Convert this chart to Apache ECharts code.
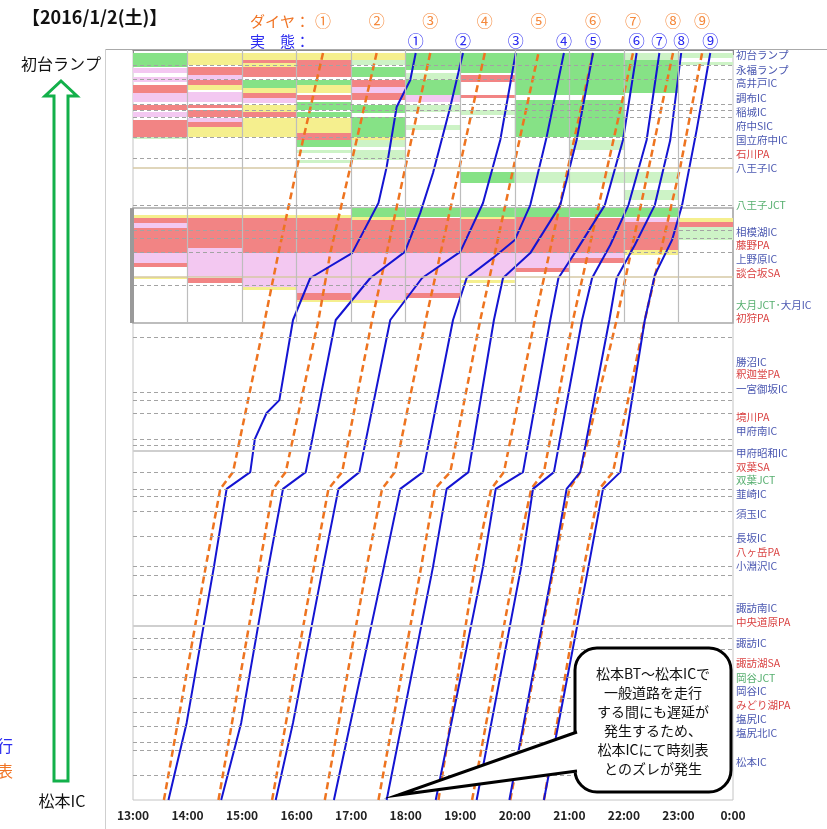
<!DOCTYPE html>
<html lang="ja">
<head>
<meta charset="utf-8" />
<title>中央道 高速バス 運行状況 2016/1/2</title>
<style>
  html, body { margin: 0; padding: 0; background: #fff; }
  #chart { width: 827px; height: 829px; }
</style>
</head>
<body>
<div id="chart"></div>
<script src="https://cdn.jsdelivr.net/npm/echarts@6/dist/echarts.min.js"></script>
<script>
const FONT = '"Noto Sans CJK JP", "Noto Sans", sans-serif';

// 停留所・IC（表示位置 km, 初台起点）
const stationNames = ['初台ランプ','永福ランプ','高井戸IC','調布IC','稲城IC','府中SIC','国立府中IC','石川PA','八王子IC',
  '八王子JCT','相模湖IC','藤野PA','上野原IC','談合坂SA','大月JCT･大月IC','初狩PA',
  '勝沼IC','釈迦堂PA','一宮御坂IC','境川PA','甲府南IC','甲府昭和IC','双葉SA','双葉JCT','韮崎IC','須玉IC',
  '長坂IC','八ヶ岳PA','小淵沢IC','諏訪南IC','中央道原PA',
  '諏訪IC','諏訪湖SA','岡谷JCT','岡谷IC','みどり湖PA','塩尻IC','塩尻北IC','松本IC'];
const stationKm = [1.7, 6.7, 11, 16, 20.7, 25.3, 30, 34.7, 39.3,
  51.7, 60.7, 65, 69.7, 74.3, 85, 89.3,
  104, 108, 113, 122.3, 127, 134.3, 139, 143.3, 148, 154.7,
  162.7, 167.3, 172, 186, 190.7,
  197.7, 204.3, 209.3, 213.7, 218.3, 223, 227.7, 237.3];

// 破線（実際の位置）と実線
const dashKm = [5, 9.7, 18, 20, 22.3, 29, 36, 51.7, 60, 62.7, 67.3, 78.3, 95.7,
  114, 116.7, 121, 129.7, 131.7, 140.7, 146.3, 148.7, 153.7, 162, 172, 175, 181.7,
  196, 199.7, 209, 216, 220.7, 225.3, 230.7, 233.3, 241.7];
const solidKm = [39.3, 75.7, 133.7, 192];
const boxKm = [52.7, 91];

// 時刻軸
const hourTicks = [13, 14, 15, 16, 17, 18, 19, 20, 21, 22, 23, 24];

// ダイヤ（時刻表） [時刻, km]
const dia = [
  [['13:34',250],['14:20',172.3],['14:36',146.3],['14:50',140.7],['15:25',90],['15:40',67.7],['16:07',30],['16:29',1]],
  [['14:34',250],['15:19',172.3],['15:34',146.3],['15:48',140.7],['16:24',90],['16:37',67.7],['17:06',30],['17:28',1]],
  [['15:33',250],['16:19',172.3],['16:35',146.3],['16:50',140.7],['17:23',90],['18:27',1]],
  [['16:31',250],['17:17',172.3],['17:34',146.3],['17:48',140.7],['18:22',90],['19:27',1]],
  [['17:30',250],['18:17',172.3],['18:32',146.3],['18:49',140.7],['19:22',90],['20:26',1]],
  [['18:36',250],['19:16',172.3],['19:34',146.3],['19:48',140.7],['20:22',90],['21:26',1]],
  [['19:13',250],['20:00',172.3],['20:18',146.3],['20:32',140.7],['21:04',90],['22:10',1]],
  [['19:55',250],['20:43',172.3],['21:00',146.3],['21:12',140.7],['21:52',90],['22:54',1]],
  [['20:32',250],['21:16',172.3],['21:33',146.3],['21:48',140.7],['22:23',90],['23:02',39],['23:26',1]]
];

// 実態（実運行） [時刻, km]
const actual = [
  [['13:39',250],['13:59',224.3],['14:29',172.3],['14:43',146.3],['15:09',140.7],['15:14',129.7],['15:27',121],['15:41',116.7],
   ['15:56',90],['16:15',76],['17:01',67.7],['17:30',51],['17:39',39],['17:50',19],['18:05',10],['18:11',1]],
  [['14:37',250],['14:59',224.3],['15:29',172.3],['15:45',146.3],['16:10',140.7],['16:43',90],['17:21',76],['17:59',67.3],
   ['18:16',54.3],['18:30',41],['18:49',19],['19:03',1]],
  [['15:37',250],['15:56',224.3],['16:29',172.3],['16:46',146.3],['17:09',140.7],['17:43',90],['18:18',76],['19:00',67.3],
   ['19:25',51],['19:44',30],['20:01',1]],
  [['16:41',250],['17:36',172.3],['17:54',146.3],['18:19',140.7],['18:52',90],['19:07',76],['19:36',69.3],['20:00',63.3],
   ['20:17',51.7],['20:35',29],['20:54',1]],
  [['17:39',250],['18:30',172.3],['18:45',146.3],['19:09',140.7],['19:37',90],['19:47',76],['20:17',67.7],['20:50',51.7],
   ['21:08',30],['21:26',1]],
  [['18:33',250],['19:25',172.3],['19:39',146.3],['20:09',140.7],['20:39',90],['20:48',76],['21:08',66.7],['21:39',51.7],
   ['21:59',30],['22:14',1]],
  [['19:18',250],['20:07',172.3],['20:20',146.3],['20:43',140.7],['21:14',90],['21:25',76],['21:45',65],['22:05',51.7],
   ['22:25',30],['22:39',1]],
  [['19:54',250],['20:42',172.3],['20:57',146.3],['21:12',140.7],['21:44',90],['21:52',76],['22:12',65],['22:34',51.7],
   ['22:51',30],['23:03',1]],
  [['20:32',250],['21:21',172.3],['21:37',146.3],['21:56',140.7],['22:23',90],['22:34',75],['22:53',63.3],['23:04',51.7],
   ['23:20',26.7],['23:35',1]]
];
const runMarks = ['①','②','③','④','⑤','⑥','⑦','⑧','⑨'];

// 渋滞状況（1時間ごと） [上端km, 下端km, 色]
const jam13 = [[1,5.7,'G'],[6,7.7,'P'],[9,10.7,'P'],[11.7,14.3,'R'],[14.3,17.3,'P'],[18.3,20,'R'],[20.7,22.3,'P'],[23.3,29,'R'],[29,29.7,'g'],
  [55,56,'Y'],[56,57.7,'R'],[57.7,59.3,'P'],[59.3,67.7,'R'],[67.7,71,'P'],[71,72.3,'R'],[75.7,76.3,'Y']];
const jam14 = [[1,5,'Y'],[5.7,8.3,'R'],[8.3,10,'P'],[10,11.7,'R'],[11.7,13.3,'Y'],[14,17.3,'P'],[18.3,19.3,'R'],[20,22.3,'R'],[22.7,24,'P'],
  [24,25.7,'R'],[25.7,29,'Y'],[55,56,'Y'],[56,66,'R'],[66,75.7,'P'],[76,77.7,'R']];
const jam15 = [[1,3.3,'Y'],[3.3,4.3,'R'],[4.3,5.7,'Y'],[5.7,9,'R'],[10,12.7,'G'],[12.7,14.3,'Y'],[14.3,16,'R'],[16,17.7,'P'],[18.3,20.7,'Y'],
  [20.7,22.3,'R'],[22.7,29,'Y'],[55,56,'Y'],[56,67.7,'R'],[67.7,79,'P'],[79,80,'Y']];
const jam16 = [[1,3.3,'Y'],[3.3,9,'R'],[10,11.7,'G'],[11.7,14.3,'Y'],[15,16.7,'R'],[17.3,20,'G'],[20.7,22.3,'G'],[22.7,27.7,'Y'],[27.7,30,'R'],
  [30,32.3,'G'],[33.3,34.3,'g'],[36.7,37.7,'g'],[55,56,'Y'],[56,67.7,'R'],[67.7,81,'P'],[81,83.3,'R'],[83.3,84,'Y']];
const jam17 = [[1,3.3,'Y'],[3.3,5,'g'],[5.7,9,'G'],[10,12.3,'R'],[12.3,14.3,'P'],[14.3,16.7,'R'],[18.3,21,'G'],[22.3,29,'G'],[29,30,'Y'],
  [30,32.3,'g'],[33.3,36.7,'g'],[52.7,55.7,'G'],[55.7,56.7,'Y'],[56.7,67.7,'R'],[67.7,83.3,'P'],[83.3,84.3,'Y']];
const jam18 = [[1,6.7,'G'],[7.7,10,'g'],[10,15,'G'],[15,17.3,'P'],[18.3,20.7,'g'],[25,26.7,'g'],[52.7,55.7,'G'],[56,67.7,'R'],[67.7,81,'P'],[81,82.7,'R']];
const jam19 = [[1,7.7,'G'],[8.3,10.7,'R'],[15,16,'R'],[20,21.7,'g'],[40.7,44.3,'G'],[52.7,55.7,'G'],[55.7,56.3,'Y'],[56.3,67.7,'R'],[67.7,76,'P'],[76.7,77.7,'Y']];
const jam20 = [[1,15,'G'],[16.7,29,'G'],[40.7,44.3,'g'],[52.7,55.7,'G'],[55.7,67.7,'R'],[67.7,72.7,'P'],[72.7,74,'R']];
const jam21 = [[1,15,'G'],[16.7,29,'G'],[30,33.3,'g'],[40.7,44.3,'g'],[52.7,55.7,'G'],[56,67.7,'R'],[67.7,69.3,'P'],[69.3,71,'R']];
const jam22 = [[1,3.3,'g'],[3.3,14.3,'G'],[40.7,44.3,'g'],[46.7,50,'g'],[52.7,55.7,'G'],[56,57.3,'P'],[57.3,66.7,'R'],[66.7,68.3,'Y']];
const jam23 = [[1,2.7,'g'],[4,5,'g'],[56,57.3,'Y'],[57.3,59,'R'],[59,63.3,'g']];

const jamColors = { G: '#86e286', g: '#cdf3c6', Y: '#f5ef8e', R: '#f28484', P: '#f3c8f1' };
const ORANGE = '#ee7420';
const BLUE = '#1414d2';

const toH = s => { const [h, m] = s.split(':').map(Number); return h + m / 60; };

const jamByHour = [jam13, jam14, jam15, jam16, jam17, jam18, jam19, jam20, jam21, jam22, jam23];
const jamData = [];
jamByHour.forEach((rows, i) => {
  rows.forEach(r => jamData.push({ value: [13 + i, r[0], r[1]], itemStyle: { color: jamColors[r[2]] } }));
});

const kindColor = name => {
  if (/(PA|SA)$/.test(name)) return '#d01010';
  if (/JCT$/.test(name)) return '#2a9a4a';
  return '#1c2c9c';
};

const stationData = stationNames.map((n, i) => ({
  name: n,
  value: [24, stationKm[i]],
  label: { color: kindColor(n) }
}));

const chart = echarts.init(document.getElementById('chart'));

const series = [];
series.push({
  type: 'custom',
  name: 'jam',
  z: 1,
  silent: true,
  data: jamData,
  renderItem: (params, api) => {
    const p0 = api.coord([api.value(0), api.value(1)]);
    const p1 = api.coord([api.value(0) + 1, api.value(2)]);
    return {
      type: 'rect',
      shape: { x: p0[0], y: p0[1], width: p1[0] - p0[0], height: p1[1] - p0[1] },
      style: { fill: api.visual('color') }
    };
  },
  markLine: {
    silent: true,
    symbol: ['none', 'none'],
    label: { show: false },
    data: solidKm.map((k, i) => ({ yAxis: k, lineStyle: { color: i < 2 ? '#d6c8a4' : '#cfcfcf', width: i < 2 ? 1.5 : 2, type: 'solid' } }))
      .concat(hourTicks.slice(1, -1).map(h => [
        { coord: [h, 0], lineStyle: { color: '#bdbdbd', width: 1.2, type: 'solid' } },
        { coord: [h, boxKm[1]] }
      ]))
  },
  markArea: {
    silent: true,
    itemStyle: { color: 'rgba(0,0,0,0)', borderColor: '#a8a8a8', borderWidth: 1.5 },
    data: [[{ coord: [13, boxKm[0]] }, { coord: [24, boxKm[1]] }]]
  }
});

series.push({
  type: 'scatter',
  name: 'stations',
  z: 2,
  silent: true,
  symbolSize: 0,
  clip: false,
  data: stationData,
  label: {
    show: true,
    position: 'right',
    distance: 3,
    fontSize: 10.5,
    fontFamily: FONT,
    formatter: p => p.name === '大月JCT･大月IC' ? '{j|大月JCT･}{i|大月IC}' : p.name,
    rich: {
      j: { color: '#2a9a4a', fontSize: 10.5, fontFamily: FONT },
      i: { color: '#1c2c9c', fontSize: 10.5, fontFamily: FONT }
    }
  },
  markLine: {
    silent: true,
    symbol: ['none', 'none'],
    label: { show: false },
    lineStyle: { color: '#a3a3a3', width: 1.2, type: [4, 3] },
    data: dashKm.map(k => ({ yAxis: k }))
  }
});

dia.forEach((run, i) => {
  series.push({
    type: 'line',
    name: 'ダイヤ' + runMarks[i],
    z: 3,
    silent: true,
    symbol: 'none',
    clip: false,
    data: run.map(([t, k]) => [toH(t), k]),
    lineStyle: { color: ORANGE, width: 2.5, type: [7, 4] }
  });
});
actual.forEach((run, i) => {
  series.push({
    type: 'line',
    name: '実態' + runMarks[i],
    z: 4,
    silent: true,
    symbol: 'none',
    clip: false,
    data: run.map(([t, k]) => [toH(t), k]),
    lineStyle: { color: BLUE, width: 2 }
  });
});

chart.setOption({
  animation: false,
  backgroundColor: '#fff',
  grid: { left: 133, right: 94, top: 50, bottom: 29, show: true, borderColor: '#c4c4c4', borderWidth: 1 },
  xAxis: {
    type: 'value',
    min: 13,
    max: 24,
    interval: 1,
    axisLine: { lineStyle: { color: '#8c8c8c', width: 1.2 } },
    axisTick: { show: true, length: 5, lineStyle: { color: '#8c8c8c' } },
    splitLine: { show: false },
    axisLabel: {
      formatter: v => (v % 24) + ':00',
      color: '#222',
      fontSize: 12,
      fontWeight: 'bold',
      fontFamily: FONT,
      margin: 9
    }
  },
  yAxis: {
    type: 'value',
    inverse: true,
    min: 0,
    max: 250,
    show: false
  },
  series: series
});

// 見出し・注記（位置は描画後に座標から求める）
const px = (h, k) => chart.convertToPixel({ gridIndex: 0 }, [h, k]);
const graphics = [];

graphics.push({ type: 'line', shape: { x1: 105, y1: 49.5, x2: 827, y2: 49.5 }, style: { stroke: '#aaa', lineWidth: 1 }, z: 10 });
graphics.push({ type: 'line', shape: { x1: 105.5, y1: 49, x2: 105.5, y2: 829 }, style: { stroke: '#cfcfcf', lineWidth: 1 }, z: 10 });

const boxTop = px(13, boxKm[0]);
const boxBot = px(13, boxKm[1]);
graphics.push({ type: 'rect', shape: { x: boxTop[0] - 3, y: boxTop[1], width: 4, height: boxBot[1] - boxTop[1] }, style: { fill: '#9a9a9a' }, z: 10 });

graphics.push({ type: 'text', left: 22, top: 8, style: { text: '【2016/1/2(土)】', font: 'bold 18px ' + FONT, fill: '#111' } });
graphics.push({ type: 'text', x: 250, y: 21, style: { text: 'ダイヤ：', font: '15px ' + FONT, fill: '#f07424', verticalAlign: 'middle' } });
graphics.push({ type: 'text', x: 250, y: 41, style: { text: '実　態：', font: '15px ' + FONT, fill: '#2b2bf0', verticalAlign: 'middle' } });

dia.forEach((run, i) => {
  const last = run[run.length - 1];
  const p = px(toH(last[0]), last[1]);
  graphics.push({ type: 'text', x: p[0], y: 21, style: { text: runMarks[i], font: '16px ' + FONT, fill: '#f5893c', align: 'center', verticalAlign: 'middle' } });
});
actual.forEach((run, i) => {
  const last = run[run.length - 1];
  const p = px(toH(last[0]), last[1]);
  graphics.push({ type: 'text', x: p[0], y: 41, style: { text: runMarks[i], font: '16px ' + FONT, fill: '#2b2bf0', align: 'center', verticalAlign: 'middle' } });
});

// 左側の矢印
graphics.push({ type: 'text', x: 61, y: 64, style: { text: '初台ランプ', font: '16px ' + FONT, fill: '#111', align: 'center', verticalAlign: 'middle' } });
graphics.push({ type: 'text', x: 62, y: 801, style: { text: '松本IC', font: '16px ' + FONT, fill: '#111', align: 'center', verticalAlign: 'middle' } });
graphics.push({
  type: 'polygon',
  shape: { points: [[61, 81], [77, 96], [68, 96], [68, 781], [54, 781], [54, 96], [45, 96]] },
  style: { fill: '#fff', stroke: '#12b04a', lineWidth: 3 }
});
graphics.push({ type: 'text', x: 13, y: 746, style: { text: '実運行', font: '16px ' + FONT, fill: '#2b2bf0', align: 'right', verticalAlign: 'middle' } });
graphics.push({ type: 'text', x: 13, y: 771, style: { text: '時刻表', font: '16px ' + FONT, fill: '#f07424', align: 'right', verticalAlign: 'middle' } });

// 吹き出し
graphics.push({ type: 'rect', shape: { x: 575, y: 648, width: 156, height: 144, r: 22 }, style: { fill: '#fff', stroke: '#000', lineWidth: 3 }, z: 20 });
graphics.push({ type: 'polygon', shape: { points: [[398, 795], [579, 731], [579, 772]] }, style: { fill: '#fff' }, z: 21 });
graphics.push({ type: 'polyline', shape: { points: [[577, 732], [398, 795], [577, 771]] }, style: { stroke: '#000', lineWidth: 3, fill: null }, z: 22 });
graphics.push({
  type: 'text', x: 653, y: 721, z: 23,
  style: {
    text: '松本BT～松本ICで\n一般道路を走行\nする間にも遅延が\n発生するため、\n松本ICにて時刻表\nとのズレが発生',
    font: '14px ' + FONT, fill: '#111', align: 'center', verticalAlign: 'middle', lineHeight: 19
  }
});

chart.setOption({ graphic: graphics });
</script>
</body>
</html>
